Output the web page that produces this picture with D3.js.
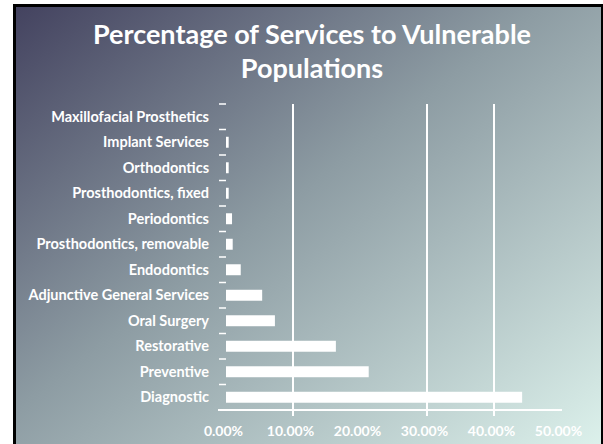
<!DOCTYPE html>
<html>
<head>
<meta charset="utf-8">
<script src="https://cdn.jsdelivr.net/npm/d3@7"></script>
<style>
  body { margin: 0; background: #fff; }
  svg { display: block; font-family: Lato, "Open Sans", sans-serif; }
</style>
</head>
<body>
<div id="chart"></div>
<script>
// data
const categories = ["Maxillofacial Prosthetics", "Implant Services", "Orthodontics", "Prosthodontics, fixed",
  "Periodontics", "Prosthodontics, removable", "Endodontics", "Adjunctive General Services",
  "Oral Surgery", "Restorative", "Preventive", "Diagnostic"];
const percentages = [0.0, 0.4, 0.4, 0.4, 0.9, 1.0, 2.2, 5.4, 7.3, 16.4, 21.3, 44.2];
const xTicks = [0, 10, 20, 30, 40, 50];
const gridValues = [10, 30, 40];   // only these lines show in the original
const titleLines = ["Percentage of Services to Vulnerable", "Populations"];

const W = 603, H = 444;
const svg = d3.select("#chart").append("svg")
    .attr("width", W)
    .attr("height", H);

const defs = svg.append("defs");
const grad = defs.append("linearGradient")
    .attr("id", "bg")
    .attr("x1", "0%").attr("y1", "0%")
    .attr("x2", "100%").attr("y2", "100%");
grad.append("stop").attr("offset", "0%").attr("stop-color", "#43425f");
grad.append("stop").attr("offset", "45%").attr("stop-color", "#8d9ca3");
grad.append("stop").attr("offset", "100%").attr("stop-color", "#def3ed");

// frame
svg.append("rect")
    .attr("x", 14.5).attr("y", 5.5)
    .attr("width", 588).attr("height", 450)
    .attr("fill", "url(#bg)")
    .attr("stroke", "#000")
    .attr("stroke-width", 3);

// title
svg.append("text")
    .attr("x", 312)
    .attr("y", 44)
    .attr("text-anchor", "middle")
    .attr("fill", "#fff")
    .style("font-size", "27px")
    .style("font-weight", "bold")
    .selectAll("tspan")
    .data(titleLines)
    .enter()
    .append("tspan")
    .attr("x", 312)
    .attr("dy", (d, i) => i === 0 ? 0 : 34)
    .text(d => d);

const xScale = d3.scaleLinear()
    .domain([0, 50])
    .range([226, 561]);

const yScale = d3.scaleBand()
    .domain(categories)
    .range([104, 410])
    .paddingInner(0.57)
    .paddingOuter(0.285);

const g = svg.append("g");

// gridlines
g.selectAll(".grid")
    .data(gridValues)
    .enter()
    .append("line")
    .attr("x1", d => xScale(d)).attr("x2", d => xScale(d))
    .attr("y1", 104).attr("y2", 416)
    .attr("stroke", "#fff")
    .attr("stroke-width", 2);

// bars
g.selectAll(".bar")
    .data(percentages)
    .enter()
    .append("rect")
    .attr("class", "bar")
    .attr("x", xScale(0))
    .attr("y", (d, i) => yScale(categories[i]))
    .attr("width", d => xScale(d) - xScale(0))
    .attr("height", yScale.bandwidth())
    .attr("fill", "#fff");

// category ticks at band edges
g.selectAll(".ytick")
    .data(categories)
    .enter()
    .append("line")
    .attr("x1", 219).attr("x2", 226)
    .attr("y1", d => yScale(d) + yScale.bandwidth() / 2 - yScale.step() / 2)
    .attr("y2", d => yScale(d) + yScale.bandwidth() / 2 - yScale.step() / 2)
    .attr("stroke", "#fff")
    .attr("stroke-width", 1.5);

// category labels
g.selectAll(".ylabel")
    .data(categories)
    .enter()
    .append("text")
    .attr("x", 209)
    .attr("y", d => yScale(d) + yScale.bandwidth() / 2)
    .attr("dy", "0.35em")
    .attr("text-anchor", "end")
    .attr("fill", "#fff")
    .style("font-size", "14.5px")
    .style("font-weight", "bold")
    .text(d => d);

// x axis
const xAxis = svg.append("g")
    .attr("transform", "translate(0,410)")
    .call(d3.axisBottom(xScale).tickValues(xTicks).tickSize(0).tickPadding(16)
      .tickFormat(d => d.toFixed(2) + "%"));
xAxis.select(".domain").remove();
xAxis.append("line")
    .attr("x1", 218).attr("x2", 562)
    .attr("stroke", "#fff")
    .attr("stroke-width", 2);
xAxis.selectAll("text")
    .attr("fill", "#fff")
    .attr("dx", -3)
    .style("font-family", "Lato, sans-serif")
    .style("font-weight", "bold")
    .style("font-size", "14px");
</script>
</body>
</html>
